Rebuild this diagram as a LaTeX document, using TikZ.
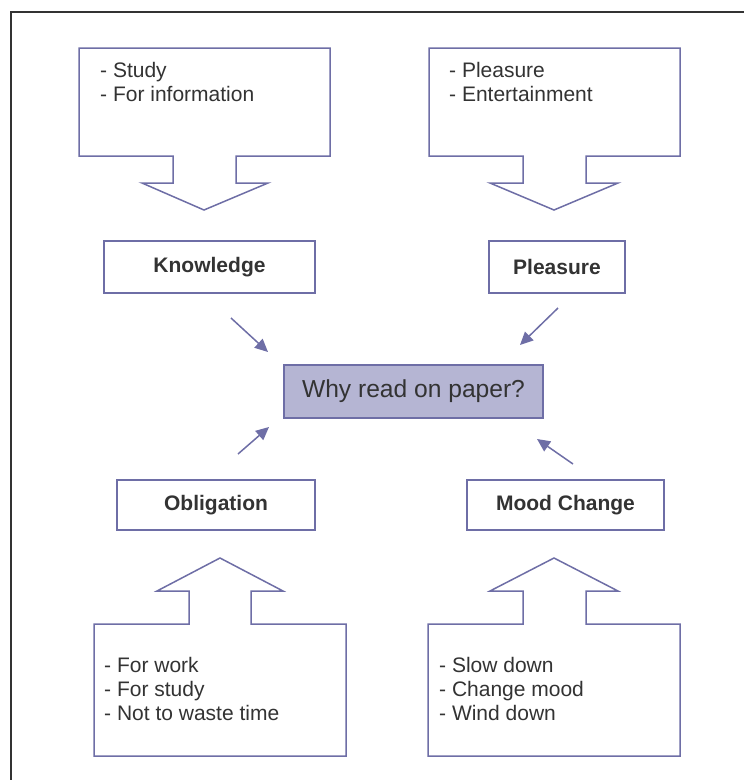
\documentclass[tikz,border=0pt]{standalone}
\usepackage{fontspec}
\setmainfont{Liberation Sans}
\usetikzlibrary{arrows.meta}
\definecolor{edge}{HTML}{6E6EA6}
\definecolor{ink}{HTML}{333333}
\definecolor{frame}{HTML}{333333}
\definecolor{core}{HTML}{B5B5D3}
\tikzset{
  callout/.style={draw=edge, line width=1.5pt, line join=miter, fill=white},
  listtext/.style={anchor=north west, inner sep=0pt, align=left, text=ink,
    font=\fontsize{21}{24}\selectfont},
  labelbox/.style={draw=edge, line width=1.5pt, fill=white, inner sep=0pt,
    text=ink, font=\fontsize{21}{24}\selectfont\bfseries},
  corebox/.style={draw=edge, line width=1.5pt, fill=core, inner sep=0pt,
    text=ink, font=\fontsize{24.6}{28}\selectfont},
  pointer/.style={draw=edge, line width=1.5pt,
    -{Triangle[length=13pt,width=12pt]}}
}
\begin{document}
\begin{tikzpicture}[x=1pt,y=-1pt]
\useasboundingbox (0,0) rectangle (744,780);
% outer frame (open on the right and at the bottom)
\draw[frame, line width=2.5pt] (744,12) -- (11,12) -- (11,780);

% callouts pointing down (top row)
\draw[callout] (79,48) -- (330,48) -- (330,156) -- (236,156) -- (236,183)
  -- (268,183) -- (204,210) -- (142,183) -- (173,183) -- (173,156)
  -- (79,156) -- cycle;
\node[listtext] (studytxt) at (100,62) {- Study\\- For information};

\draw[callout] (429,48) -- (680,48) -- (680,156) -- (586,156) -- (586,183)
  -- (618,183) -- (554,210) -- (490,183) -- (523,183) -- (523,156)
  -- (429,156) -- cycle;
\node[listtext] (funtxt) at (449,62) {- Pleasure\\- Entertainment};

% callouts pointing up (bottom row)
\draw[callout] (94,756) -- (346,756) -- (346,624) -- (251,624) -- (251,591)
  -- (283,591) -- (220,558) -- (157,591) -- (189,591) -- (189,624)
  -- (94,624) -- cycle;
\node[listtext] (worktxt) at (104,657) {- For work\\- For study\\- Not to waste time};

\draw[callout] (428,756) -- (680,756) -- (680,624) -- (586,624) -- (586,591)
  -- (618,591) -- (554,558) -- (490,591) -- (523,591) -- (523,624)
  -- (428,624) -- cycle;
\node[listtext] (moodtxt) at (439,657) {- Slow down\\- Change mood\\- Wind down};

% category boxes
\node[labelbox, minimum width=211pt, minimum height=52pt] (know) at (209.5,267) {Knowledge};
\node[labelbox, minimum width=136pt, minimum height=52pt] (pleas) at (557,267) {Pleasure};
\node[labelbox, minimum width=198pt, minimum height=50pt] (oblig) at (216,505) {Obligation};
\node[labelbox, minimum width=197pt, minimum height=50pt] (mood) at (565.5,505) {Mood Change};

% central question
\node[corebox, minimum width=259pt, minimum height=53pt] (why) at (413.5,391.5) {Why read on paper?};

% arrows towards the question
\coordinate (k0) at (231,318);  \coordinate (k1) at (268,352);
\coordinate (p0) at (558,308);  \coordinate (p1) at (520,345);
\coordinate (o0) at (238,454);  \coordinate (o1) at (269,427);
\coordinate (m0) at (573,464);  \coordinate (m1) at (537,439);
\draw[pointer] (k0) -- (k1);
\draw[pointer] (p0) -- (p1);
\draw[pointer] (o0) -- (o1);
\draw[pointer] (m0) -- (m1);
\end{tikzpicture}
\end{document}
